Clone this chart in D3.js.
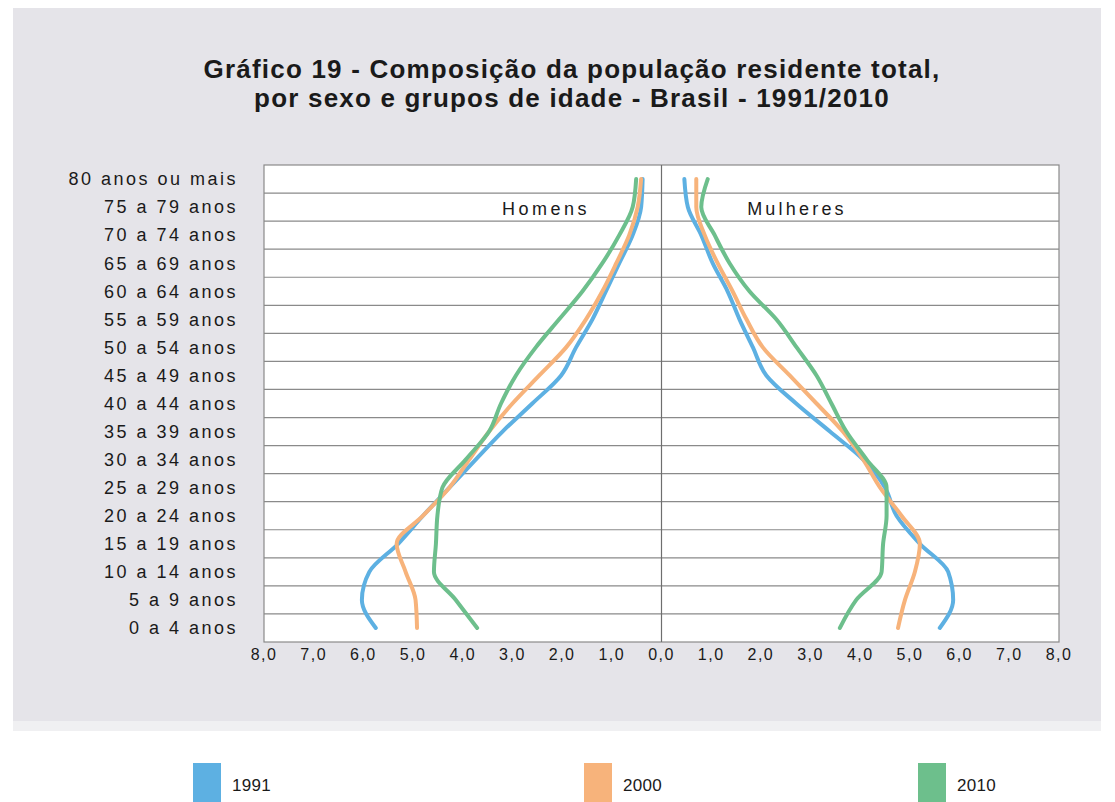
<!DOCTYPE html>
<html>
<head>
<meta charset="utf-8">
<script src="https://cdn.jsdelivr.net/npm/d3@7"></script>
<style>
  body { margin: 0; background: #ffffff; }
  svg text { font-family: "Liberation Sans", Arial, sans-serif; fill: #1a1a1a; }
</style>
</head>
<body>
<script>
'use strict';
// age groups, top to bottom
const ageGroups = ["80 anos ou mais", "75 a 79 anos", "70 a 74 anos", "65 a 69 anos", "60 a 64 anos",
  "55 a 59 anos", "50 a 54 anos", "45 a 49 anos", "40 a 44 anos", "35 a 39 anos", "30 a 34 anos",
  "25 a 29 anos", "20 a 24 anos", "15 a 19 anos", "10 a 14 anos", "5 a 9 anos", "0 a 4 anos"];

// percent of total population, same order as ageGroups
const men1991 = [0.38, 0.41, 0.58, 0.85, 1.12, 1.39, 1.72, 2.02, 2.6, 3.2, 3.74, 4.27, 4.8, 5.3, 5.88, 6.03, 5.75];
const men2000 = [0.41, 0.48, 0.65, 0.91, 1.19, 1.52, 1.92, 2.46, 3.0, 3.47, 3.87, 4.27, 4.8, 5.33, 5.15, 4.95, 4.92];
const men2010 = [0.51, 0.58, 0.85, 1.19, 1.59, 2.06, 2.53, 2.93, 3.23, 3.47, 3.94, 4.41, 4.51, 4.54, 4.58, 4.14, 3.71];
const women1991 = [0.46, 0.53, 0.8, 1.03, 1.33, 1.57, 1.84, 2.11, 2.71, 3.39, 4.06, 4.5, 4.73, 5.2, 5.77, 5.87, 5.6];
const women2000 = [0.7, 0.7, 0.87, 1.13, 1.43, 1.71, 2.04, 2.58, 3.12, 3.65, 4.06, 4.4, 4.83, 5.2, 5.1, 4.9, 4.76];
const women2010 = [0.93, 0.8, 1.07, 1.37, 1.77, 2.31, 2.72, 3.12, 3.42, 3.72, 4.13, 4.53, 4.53, 4.46, 4.43, 3.92, 3.59];

const years = ["1991", "2000", "2010"];
const colors = ["#5db0e2", "#f7b37b", "#6dbf8c"];
const xTicks = [-8, -7, -6, -5, -4, -3, -2, -1, 0, 1, 2, 3, 4, 5, 6, 7, 8];

(function() {
    const width = 1115, height = 802;
    const svg = d3.select('body').append('svg')
        .attr('width', width)
        .attr('height', height);

    // gray panel
    svg.append('rect')
        .attr('x', 13).attr('y', 8)
        .attr('width', 1088).attr('height', 713)
        .attr('fill', '#e5e4e9');
    svg.append('rect')
        .attr('x', 13).attr('y', 721)
        .attr('width', 1088).attr('height', 10)
        .attr('fill', '#f0f0f2');

    // title
    const title = svg.append('text')
        .attr('text-anchor', 'middle')
        .style('font-size', '26px')
        .style('font-weight', 'bold')
        .style('letter-spacing', '1.2px');
    title.append('tspan').attr('x', 572).attr('y', 78)
        .text("Gráfico 19 - Composição da população residente total,");
    title.append('tspan').attr('x', 572).attr('y', 107)
        .text("por sexo e grupos de idade - Brasil - 1991/2010");

    // scales
    const x = d3.scaleLinear().domain([-8, 8]).range([264, 1059]);
    const y = d3.scaleBand().domain(ageGroups).range([165, 642]);

    // plot box
    svg.append('rect')
        .attr('x', x(-8)).attr('y', y.range()[0])
        .attr('width', x(8) - x(-8)).attr('height', y.range()[1] - y.range()[0])
        .attr('fill', 'white')
        .attr('stroke', '#8a8a8a')
        .attr('stroke-width', 1.2);

    // horizontal grid lines at band edges
    svg.selectAll('.grid')
        .data(ageGroups.slice(1))
        .enter()
        .append('line')
        .attr('class', 'grid')
        .attr('x1', x(-8)).attr('x2', x(8))
        .attr('y1', d => y(d)).attr('y2', d => y(d))
        .attr('stroke', '#8a8a8a')
        .attr('stroke-width', 1.2);

    // center line
    svg.append('line')
        .attr('x1', x(0)).attr('x2', x(0))
        .attr('y1', y.range()[0]).attr('y2', y.range()[1])
        .attr('stroke', '#6e6e6e')
        .attr('stroke-width', 1.2);

    // y labels
    svg.selectAll('.ylab')
        .data(ageGroups)
        .enter()
        .append('text')
        .attr('class', 'ylab')
        .attr('x', 238)
        .attr('y', d => y(d) + y.bandwidth() / 2)
        .attr('dy', '0.35em')
        .attr('text-anchor', 'end')
        .style('font-size', '18px')
        .style('letter-spacing', '2.5px')
        .text(d => d);

    // x tick labels
    const fmt = d3.format('.1f');
    svg.selectAll('.xlab')
        .data(xTicks)
        .enter()
        .append('text')
        .attr('class', 'xlab')
        .attr('x', d => x(d))
        .attr('y', 660)
        .attr('text-anchor', 'middle')
        .style('font-size', '16px')
        .style('letter-spacing', '1.5px')
        .text(d => fmt(Math.abs(d)).replace('.', ','));

    // lines
    const line = d3.line()
        .x(d => x(d.v))
        .y(d => y(d.age) + y.bandwidth() / 2)
        .curve(d3.curveMonotoneY);

    const series = [
        { values: men1991, sign: -1, c: 0 },
        { values: men2000, sign: -1, c: 1 },
        { values: men2010, sign: -1, c: 2 },
        { values: women1991, sign: 1, c: 0 },
        { values: women2000, sign: 1, c: 1 },
        { values: women2010, sign: 1, c: 2 }
    ];

    svg.selectAll('.series')
        .data(series)
        .enter()
        .append('path')
        .attr('class', 'series')
        .attr('d', s => line(s.values.map((v, i) => ({ v: s.sign * v, age: ageGroups[i] }))))
        .attr('fill', 'none')
        .attr('stroke', s => colors[s.c])
        .attr('stroke-width', 4)
        .attr('stroke-linejoin', 'round')
        .attr('stroke-linecap', 'round');

    // side labels
    svg.append('text')
        .attr('x', 546).attr('y', 215)
        .attr('text-anchor', 'middle')
        .style('font-size', '18px')
        .style('letter-spacing', '3.5px')
        .text('Homens');
    svg.append('text')
        .attr('x', 797).attr('y', 215)
        .attr('text-anchor', 'middle')
        .style('font-size', '18px')
        .style('letter-spacing', '3.2px')
        .text('Mulheres');

    // legend
    const legendX = [193, 584, 918];
    const legend = svg.selectAll('.legend')
        .data(years)
        .enter()
        .append('g')
        .attr('class', 'legend')
        .attr('transform', (d, i) => 'translate(' + legendX[i] + ',763)');
    legend.append('rect')
        .attr('width', 28).attr('height', 45)
        .attr('fill', (d, i) => colors[i]);
    legend.append('text')
        .attr('x', 39).attr('y', 28)
        .style('font-size', '17px')
        .style('letter-spacing', '0.3px')
        .text(d => d);
})();
</script>
</body>
</html>
